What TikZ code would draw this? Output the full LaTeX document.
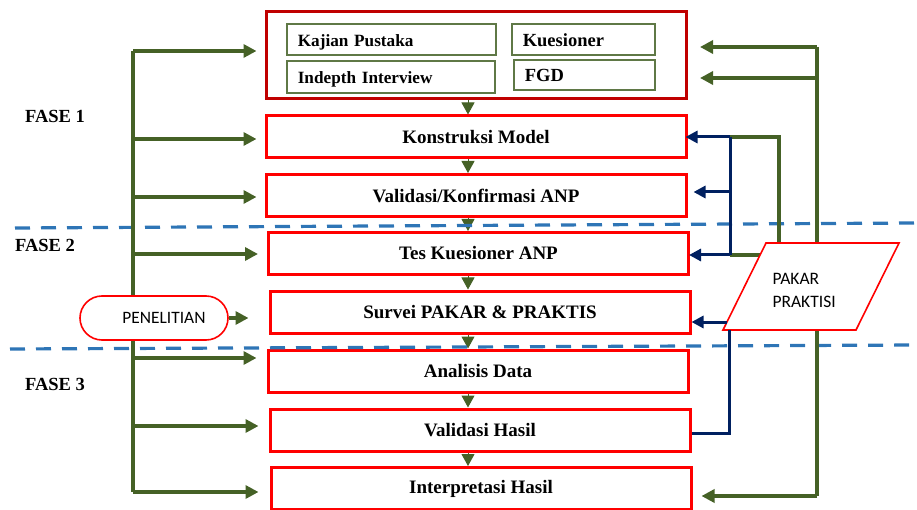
\documentclass[tikz,border=0pt]{standalone}
\usepackage{fontspec}
\setmainfont{Liberation Serif}
\newfontfamily\sanscal{Carlito}
\usetikzlibrary{arrows.meta,calc}
\definecolor{dgreen}{RGB}{69,97,38}
\definecolor{igreen}{RGB}{95,120,70}
\definecolor{navy}{RGB}{0,32,96}
\definecolor{dashblue}{RGB}{46,117,182}
\definecolor{dred}{RGB}{192,0,0}
\tikzset{
  mainbox/.style={draw=red, line width=3pt, fill=white, minimum width=420pt, minimum height=42pt, inner sep=0pt,
     font=\fontsize{19}{22}\selectfont\bfseries},
  topbox/.style={draw=dred, line width=3pt, minimum width=420pt, minimum height=87pt, inner sep=0pt},
  innerbox/.style={draw=igreen, line width=1.6pt, inner xsep=11pt, inner ysep=0pt, anchor=north west, align=left,
     font=\fontsize{17.2}{20}\selectfont\bfseries},
  fase/.style={font=\fontsize{18.5}{21}\selectfont\bfseries},
  gline/.style={draw=dgreen, line width=3.5pt},
  garrow/.style={gline, -{Triangle[length=13pt,width=13pt]}},
  bline/.style={draw=navy, line width=3pt},
  barrow/.style={bline, -{Triangle[length=12pt,width=12pt]}},
  sarrow/.style={draw=dgreen, line width=1pt, -{Triangle[length=12pt,width=13pt]}},
  dashsep/.style={draw=dashblue, line width=3.2pt, dash pattern=on 15pt off 11pt},
}
\begin{document}
\begin{tikzpicture}[x=1pt,y=-1pt]
\useasboundingbox (0,0) rectangle (917,510);
% boxes
\node[topbox] (top) at (476,55.5) {};
\node[innerbox, text width=187pt, minimum height=31pt, text height=18pt, text depth=4pt] (kp) at (286,23) {Kajian Pustaka};
\node[innerbox, text width=121pt, minimum height=31pt, text height=19pt, text depth=4pt, font=\fontsize{18.5}{20}\selectfont\bfseries] (ks) at (511,23) {Kuesioner};
\node[innerbox, text width=186pt, minimum height=32pt, text height=18pt, text depth=4pt] (ii) at (286,60) {Indepth Interview};
\node[innerbox, text width=119pt, minimum height=30pt, text height=18pt, text depth=4pt, font=\fontsize{18.5}{20}\selectfont\bfseries] (fg) at (513,59) {FGD};

\node[mainbox] (konst) at (476,137) {Konstruksi Model};
\node[mainbox] (valid) at (476,195.5) {Validasi/Konfirmasi ANP};
\node[mainbox] (tes) at (478.5,253.5) {Tes Kuesioner ANP};
\node[mainbox] (surv) at (480,312) {\raisebox{1pt}{Survei PAKAR \& PRAKTIS}};
\node[mainbox] (anal) at (478,371) {\raisebox{1pt}{Analisis Data}};
\node[mainbox] (vhas) at (480,430) {Validasi Hasil};
\node[mainbox] (intp) at (481,488.5) {\raisebox{1pt}{Interpretasi Hasil}};

% small arrows between boxes
\coordinate (ax) at (468,0);
\draw[sarrow] (ax |- top.south) -- (ax |- konst.north);
\draw[sarrow] (ax |- konst.south) -- (ax |- valid.north);
\draw[sarrow] (ax |- valid.south) -- (ax |- tes.north);
\draw[sarrow] (ax |- tes.south) -- (ax |- surv.north);
\draw[sarrow] (ax |- surv.south) -- (ax |- anal.north);
\draw[sarrow] (ax |- anal.south) -- (ax |- vhas.north);
\draw[sarrow] (ax |- vhas.south) -- (ax |- intp.north);

% dashed separators
\coordinate (d1a) at (15,228); \coordinate (d1b) at (917,223);
\coordinate (d2a) at (10,349); \coordinate (d2b) at (917,345);
\draw[dashsep] (d1a) -- (d1b);
\draw[dashsep] (d2a) -- (d2b);

% phase labels
\node[fase] (f1) at (55,116) {FASE 1};
\node[fase] (f2) at (45,245) {FASE 2};
\node[fase] (f3) at (55,384) {FASE 3};

% left tree
\coordinate (lt) at (133,51);
\coordinate (lb) at (133,492);
\draw[gline] (lt) -- (lb);
\draw[garrow, shorten >=8pt] (lt) -- (lt -| top.west);
\draw[garrow, shorten >=8pt] (133,139) -- (konst.west |- 0,139);
\draw[garrow, shorten >=8pt] (133,197) -- (valid.west |- 0,197);
\draw[garrow, shorten >=9pt] (133,254) -- (tes.west |- 0,254);
\draw[garrow, shorten >=10pt] (133,358) -- (anal.west |- 0,358);
\draw[garrow, shorten >=10pt] (133,426) -- (vhas.west |- 0,426);
\draw[garrow, shorten >=11pt] (lb) -- (lb -| intp.west);
\node[draw=red, line width=1.6pt, fill=white, rounded corners=22pt, minimum width=148pt, minimum height=44pt,
      font=\sanscal\fontsize{17.4}{20}\selectfont] (pen) at (154,318) {\hspace*{20pt}PENELITIAN};
\draw[garrow, shorten >=20pt] (pen.east) -- (pen.east -| surv.west);

% right side
\coordinate (rt) at (817,47);
\coordinate (rb) at (817,496);
\draw[gline] (rt) -- (rb);
\draw[garrow] (rt) -- (700,47);
\draw[garrow] (817,78) -- (700,78);
\draw[garrow, shorten >=9pt] (rb) -- (rb -| intp.east);

\coordinate (p1) at (723,330);
\coordinate (p2) at (856,330);
\coordinate (p3) at (899,243);
\coordinate (p4) at (766,243);
\coordinate (bj) at (730,137);
\coordinate (bk) at (730,255);
\coordinate (pg) at (779,243);
\coordinate (pl) at (760,255);
\draw[gline] (pg) -- (pg |- bj) -- (bj);
\draw[gline] (pl) -- (bk);
\draw[bline] (bj) -- (bk);
\draw[barrow, shorten >=-2pt] (bj) -- (konst.east |- bj);
\draw[barrow, shorten >=6pt] (730,192) -- (valid.east |- 0,192);
\draw[barrow, shorten >=-1pt] (bk) -- (tes.east |- bk);
\filldraw[draw=red, fill=white, line width=1.6pt] (p1) -- (p2) -- (p3) -- (p4) -- cycle;
\node[anchor=west, align=left, font=\sanscal\fontsize{17.5}{23}\selectfont] (pakar) at (769,290) {PAKAR\\PRAKTISI};
\draw[barrow] (727,322) -- (surv.east |- 0,322);
\draw[bline] (729,330) -- (729,433) -- (vhas.east |- 0,433);
\end{tikzpicture}
\end{document}
